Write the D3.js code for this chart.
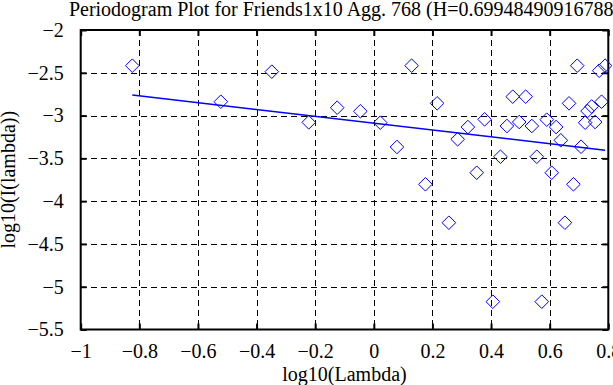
<!DOCTYPE html>
<html>
<head>
<meta charset="utf-8">
<script src="https://cdn.jsdelivr.net/npm/d3@7/dist/d3.min.js"></script>
<style>
  html, body { margin: 0; padding: 0; background: #fff; }
  svg { display: block; }
  text { font-family: "Liberation Serif", "DejaVu Serif", serif; fill: #000; }
</style>
</head>
<body>
<svg id="chart" width="613" height="385"></svg>
<script>
// ---- data ----
const titleText = "Periodogram Plot for Friends1x10 Agg. 768 (H=0.69948490916788)";
const xLabel = "log10(Lambda)";
const yLabel = "log10(I(lambda))";

const logLambda = [
  -0.824, -0.522, -0.348, -0.222, -0.125, -0.046, 0.022, 0.079, 0.129, 0.176,
  0.216, 0.256, 0.286, 0.321, 0.351, 0.378, 0.406, 0.432, 0.454, 0.474,
  0.496, 0.518, 0.539, 0.556, 0.573, 0.590, 0.607, 0.622, 0.638, 0.652,
  0.666, 0.681, 0.694, 0.707, 0.721, 0.729, 0.743, 0.755, 0.769, 0.777, 0.789
];
const logPeriodogram = [
  -2.417, -2.838, -2.487, -3.079, -2.908, -2.950, -3.083, -3.367, -2.417, -3.803,
  -2.857, -4.252, -3.277, -3.134, -3.668, -3.044, -5.175, -3.481, -3.122, -2.779,
  -3.075, -2.779, -3.122, -3.481, -5.175, -3.048, -3.668, -3.134, -3.289, -4.252,
  -2.857, -3.803, -2.417, -3.364, -3.083, -2.947, -2.894, -3.075, -2.476, -2.838, -2.417
];
// fitted line endpoints (slope = 1 - 2H)
const fitX = [-0.824, 0.789];
const fitY = [-2.760, -3.404];

const xTicks = [-1, -0.8, -0.6, -0.4, -0.2, 0, 0.2, 0.4, 0.6, 0.8];
const xTickLabels = ["\u22121", "\u22120.8", "\u22120.6", "\u22120.4", "\u22120.2", "0", "0.2", "0.4", "0.6", "0.8"];
const yTicks = [-5.5, -5, -4.5, -4, -3.5, -3, -2.5, -2];
const yTickLabels = ["\u22125.5", "\u22125", "\u22124.5", "\u22124", "\u22123.5", "\u22123", "\u22122.5", "\u22122"];

// ---- layout ----
const L = 80.7, R = 608.3, T = 30, B = 329.5;
const svg = d3.select("#chart");
const x = d3.scaleLinear().domain([-1, 0.8]).range([L, R]);
const y = d3.scaleLinear().domain([-5.5, -2]).range([B, T]);

// grid
const grid = svg.append("g").attr("stroke", "#000").attr("stroke-width", 1)
  .attr("stroke-dasharray", "6,4").attr("shape-rendering", "crispEdges");
grid.selectAll("line.vx").data(xTicks.slice(1, -1)).enter().append("line")
  .attr("x1", d => Math.round(x(d)) + 0.5).attr("x2", d => Math.round(x(d)) + 0.5)
  .attr("y1", T).attr("y2", B);
grid.selectAll("line.hy").data(yTicks.slice(1, -1)).enter().append("line")
  .attr("y1", d => Math.round(y(d)) + 0.5).attr("y2", d => Math.round(y(d)) + 0.5)
  .attr("x1", L).attr("x2", R);

// axes with inward ticks on all sides
const tickLen = 6;
const axB = d3.axisBottom(x).tickValues(xTicks).tickSize(-tickLen).tickFormat((d, i) => xTickLabels[i]).tickPadding(14);
const axT = d3.axisTop(x).tickValues(xTicks).tickSize(-tickLen).tickFormat("");
const axL = d3.axisLeft(y).tickValues(yTicks).tickSize(-tickLen).tickFormat((d, i) => yTickLabels[i]).tickPadding(17);
const axR = d3.axisRight(y).tickValues(yTicks).tickSize(-tickLen).tickFormat("");

function styleAxis(g) {
  g.select(".domain").remove();
  g.selectAll(".tick line").attr("stroke", "#000").attr("stroke-width", 2);
  g.selectAll(".tick text").attr("font-size", 20).attr("font-family", "Liberation Serif").attr("fill", "#000");
}
svg.append("g").attr("transform", `translate(0,${B})`).call(axB).call(styleAxis);
svg.append("g").attr("transform", `translate(0,${T})`).call(axT).call(styleAxis);
svg.append("g").attr("transform", `translate(${L},0)`).call(axL).call(styleAxis);
svg.append("g").attr("transform", `translate(${R},0)`).call(axR).call(styleAxis);

// box
svg.append("rect").attr("x", L).attr("y", T).attr("width", R - L).attr("height", B - T)
  .attr("fill", "none").attr("stroke", "#000").attr("stroke-width", 2);

// fitted line
svg.append("line")
  .attr("x1", x(fitX[0])).attr("y1", y(fitY[0]))
  .attr("x2", x(fitX[1])).attr("y2", y(fitY[1]))
  .attr("stroke", "#0000ff").attr("stroke-width", 1.5);

// diamonds
const pts = logLambda.map((v, i) => ({ x: v, y: logPeriodogram[i] }));
const s = 6.8;
svg.append("g").selectAll("path").data(pts).enter().append("path")
  .attr("d", d => {
    const cx = x(d.x), cy = y(d.y);
    return `M${cx},${cy - s}L${cx + s},${cy}L${cx},${cy + s}L${cx - s},${cy}Z`;
  })
  .attr("fill", "none").attr("stroke", "#0000ff").attr("stroke-width", 1);

// labels
svg.append("text").attr("x", (L + R) / 2).attr("y", 16).attr("text-anchor", "middle")
  .attr("font-size", 20).text(titleText);
svg.append("text").attr("x", (L + R) / 2).attr("y", 381).attr("text-anchor", "middle")
  .attr("font-size", 20).text(xLabel);
svg.append("text").attr("transform", `translate(15,${(T + B) / 2}) rotate(-90)`)
  .attr("text-anchor", "middle").attr("font-size", 20).text(yLabel);
</script>
</body>
</html>
